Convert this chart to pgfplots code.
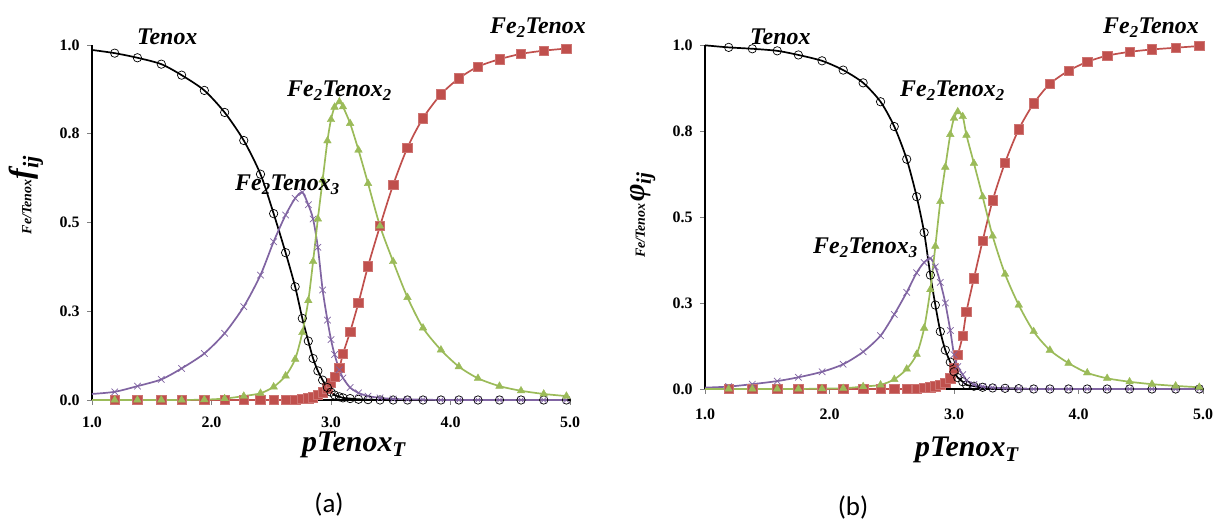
\documentclass[border=0pt]{standalone}
\usepackage{fontspec}
\setmainfont{Liberation Serif}
\newfontfamily\calib{Carlito}
\usepackage{pgfplots}
\usepackage{pgfplotstable}
\pgfplotsset{compat=1.18}
\definecolor{cred}{HTML}{C0504D}
\definecolor{cgreen}{HTML}{9BBB59}
\definecolor{cpurple}{HTML}{8064A2}

\pgfplotstableread{
x    a      b      c      d
1.00 0.986  0.017  0.000  0.000
1.19 0.977  0.023  0.000  0.000
1.38 0.964  0.039  0.000  0.000
1.58 0.946  0.058  0.000  0.000
1.75 0.915  0.089  0.000  0.000
1.94 0.872  0.131  0.001  0.000
2.11 0.810  0.188  0.004  0.000
2.27 0.731  0.263  0.011  0.000
2.41 0.636  0.352  0.019  0.000
2.52 0.525  0.446  0.037  0.000
2.62 0.415  0.521  0.068  0.000
2.70 0.319  0.568  0.115  0.001
2.76 0.230  0.585  0.190  0.003
2.81 0.166  0.550  0.280  0.005
2.85 0.117  0.510  0.390  0.008
2.89 0.082  0.430  0.510  0.014
2.93 0.056  0.310  0.620  0.022
2.97 0.035  0.225  0.730  0.033
3.00 0.022  0.170  0.790  0.048
3.03 0.014  0.128  0.825  0.065
3.07 0.009  0.085  0.840  0.090
3.10 0.006  0.062  0.826  0.130
3.16 0.004  0.035  0.779  0.192
3.23 0.002  0.020  0.704  0.274
3.31 0.001  0.011  0.610  0.377
3.41 0.000  0.006  0.490  0.490
3.52 0.000  0.003  0.390  0.606
3.64 0.000  0.002  0.289  0.711
3.77 0.000  0.001  0.203  0.794
3.92 0.000  0.000  0.141  0.861
4.07 0.000  0.000  0.094  0.906
4.23 0.000  0.000  0.061  0.939
4.41 0.000  0.000  0.039  0.960
4.59 0.000  0.000  0.026  0.975
4.78 0.000  0.000  0.017  0.984
4.97 0.000  0.000  0.011  0.990
}\tA

\pgfplotstableread{
x    a      b      c      d
1.00 0.999  0.004  0.000  0.000
1.19 0.993  0.007  0.000  0.000
1.38 0.989  0.014  0.000  0.000
1.58 0.983  0.023  0.000  0.000
1.75 0.971  0.034  0.000  0.000
1.94 0.954  0.050  0.001  0.000
2.11 0.927  0.072  0.002  0.000
2.27 0.890  0.108  0.007  0.000
2.41 0.835  0.155  0.012  0.000
2.52 0.763  0.217  0.028  0.000
2.62 0.668  0.281  0.058  0.000
2.70 0.559  0.338  0.101  0.001
2.76 0.455  0.368  0.177  0.003
2.81 0.331  0.380  0.289  0.005
2.85 0.244  0.355  0.415  0.008
2.89 0.167  0.310  0.545  0.012
2.93 0.113  0.250  0.645  0.018
2.97 0.078  0.170  0.740  0.031
3.00 0.050  0.100  0.787  0.060
3.03 0.033  0.065  0.806  0.099
3.07 0.021  0.042  0.792  0.155
3.10 0.012  0.025  0.738  0.225
3.16 0.008  0.013  0.656  0.322
3.23 0.005  0.007  0.559  0.431
3.31 0.003  0.004  0.445  0.548
3.41 0.002  0.002  0.334  0.658
3.52 0.001  0.001  0.244  0.755
3.64 0.000  0.000  0.167  0.830
3.77 0.000  0.000  0.113  0.887
3.92 0.000  0.000  0.075  0.925
4.07 0.000  0.000  0.047  0.951
4.23 0.000  0.000  0.031  0.969
4.41 0.000  0.000  0.021  0.980
4.59 0.000  0.000  0.014  0.987
4.78 0.000  0.000  0.009  0.992
4.97 0.000  0.000  0.005  0.997
}\tB

\pgfplotsset{
  panel/.style={
    scale only axis, anchor=south west,
    xmin=1, xmax=5, ymin=0, ymax=1,
    axis x line*=bottom, axis y line*=left,
    axis line style={-, black, line width=1.1bp},
    xtick={1,2,3,4,5}, xticklabels={1.0,2.0,3.0,4.0,5.0},
    ytick={0,0.25,0.5,0.75,1}, yticklabels={0.0,0.3,0.5,0.8,1.0},
    tick align=outside, major tick length=5bp,
    tick style={gray, line width=0.8bp},
    ticklabel style={font=\bfseries\fontsize{16}{16}\selectfont},
    yticklabel style={xshift=-4bp},
    clip=false,
  },
  lin/.style={line width=1.7bp, smooth, tension=0.45, no marks},
  mk/.style={only marks, skip coords between index={0}{1}},
}

\newcommand{\lab}[1]{{\bfseries\itshape\fontsize{24}{24}\selectfont #1}}

\begin{document}
\begin{tikzpicture}[x=1bp,y=1bp]
\useasboundingbox (0,0) rectangle (1217,521);

% ---------- panel (a)
\begin{axis}[panel, at={(92bp,121bp)}, width=478bp, height=355bp,
  xticklabel style={yshift=-8bp}]
  \addplot[lin, cred] table[x=x,y=d]{\tA};
  \addplot[mk, mark=square*, mark size=4.7bp, cred, mark options={draw=cred!80!white, fill=cred, line width=0.6bp}] table[x=x,y=d]{\tA};
  \addplot[lin, black] table[x=x,y=a]{\tA};
  \addplot[mk, mark=o, mark size=4.2bp, black, mark options={line width=0.7bp}] table[x=x,y=a]{\tA};
  \addplot[lin, cpurple] table[x=x,y=b]{\tA};
  \addplot[mk, mark=x, mark size=4.6bp, cpurple, mark options={line width=0.7bp}] table[x=x,y=b]{\tA};
  \addplot[lin, cgreen] table[x=x,y=c]{\tA};
  \addplot[mk, mark=triangle*, mark size=4.4bp, cgreen] table[x=x,y=c]{\tA};
\end{axis}

% ---------- panel (b)
\begin{axis}[panel, at={(705bp,132bp)}, width=498bp, height=344bp,
  xticklabel style={yshift=-11bp}]
  \addplot[lin, cred] table[x=x,y=d]{\tB};
  \addplot[mk, mark=square*, mark size=4.7bp, cred, mark options={draw=cred!80!white, fill=cred, line width=0.6bp}] table[x=x,y=d]{\tB};
  \addplot[lin, black] table[x=x,y=a]{\tB};
  \addplot[mk, mark=o, mark size=4.2bp, black, mark options={line width=0.7bp}] table[x=x,y=a]{\tB};
  \addplot[lin, cpurple] table[x=x,y=b]{\tB};
  \addplot[mk, mark=x, mark size=4.6bp, cpurple, mark options={line width=0.7bp}] table[x=x,y=b]{\tB};
  \addplot[lin, cgreen] table[x=x,y=c]{\tB};
  \addplot[mk, mark=triangle*, mark size=4.4bp, cgreen] table[x=x,y=c]{\tB};
\end{axis}

% ---------- annotations (a)
\node[anchor=base west, inner sep=0] at (137,476.7) {\lab{Tenox}};
\node[anchor=base west, inner sep=0] at (287,424) {\lab{Fe\textsubscript{2}Tenox\textsubscript{2}}};
\node[anchor=base west, inner sep=0] at (235,330.3) {\lab{Fe\textsubscript{2}Tenox\textsubscript{3}}};
\node[anchor=base west, inner sep=0] at (490,487.7) {\lab{Fe\textsubscript{2}Tenox}};
% ---------- annotations (b)
\node[anchor=base west, inner sep=0] at (750,476.7) {\lab{Tenox}};
\node[anchor=base west, inner sep=0] at (900,424.3) {\lab{Fe\textsubscript{2}Tenox\textsubscript{2}}};
\node[anchor=base west, inner sep=0] at (813,267.7) {\lab{Fe\textsubscript{2}Tenox\textsubscript{3}}};
\node[anchor=base west, inner sep=0] at (1103,487.7) {\lab{Fe\textsubscript{2}Tenox}};

% ---------- axis titles
\node[anchor=base west, inner sep=0] at (302,69.3) {{\bfseries\itshape\fontsize{30}{30}\selectfont pTenox\textsubscript{T}}};
\node[anchor=base west, inner sep=0] at (915,64.3) {{\bfseries\itshape\fontsize{30}{30}\selectfont pTenox\textsubscript{T}}};

\node[rotate=90, inner sep=0] at (26,326) {{\bfseries\itshape\fontsize{14}{14}\selectfont Fe/Tenox}{\bfseries\itshape\fontsize{32}{32}\selectfont f\textsubscript{ij}}};
\node[rotate=90, inner sep=0] at (643,306) {{\bfseries\itshape\fontsize{14}{14}\selectfont Fe/Tenox}\,{\bfseries\itshape\fontsize{30}{30}\selectfont φ\textsubscript{ij}}};

\node[inner sep=0] at (329,16) {{\calib\fontsize{27}{27}\selectfont (a)}};
\node[inner sep=0] at (853,13) {{\calib\fontsize{27}{27}\selectfont (b)}};
\end{tikzpicture}
\end{document}
